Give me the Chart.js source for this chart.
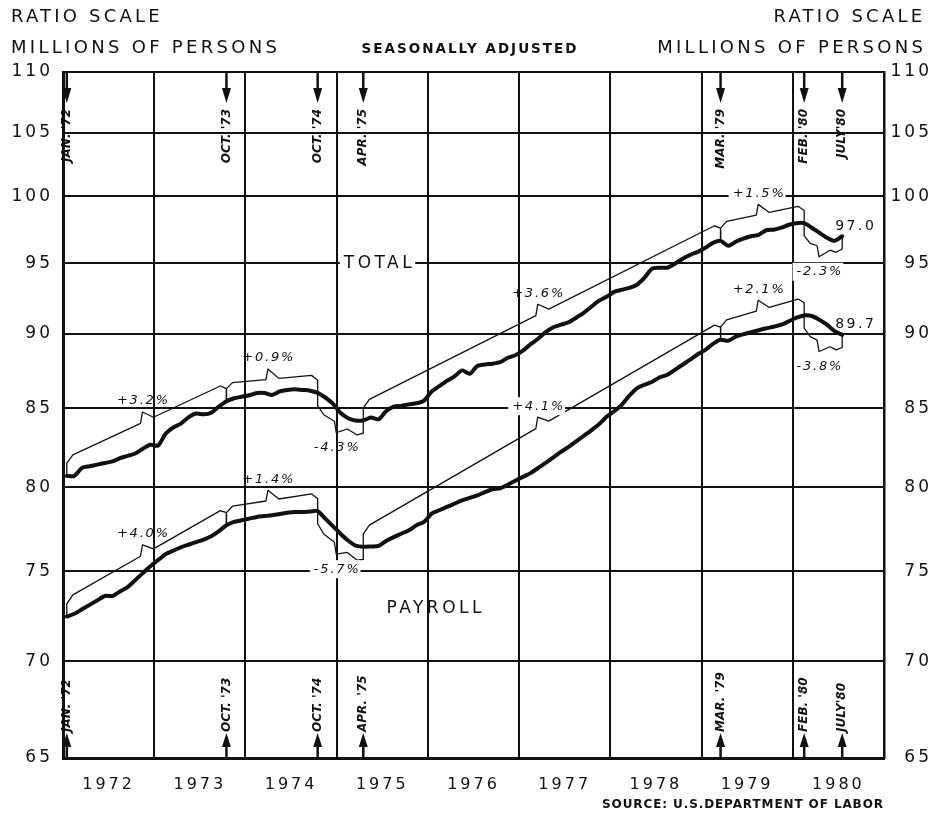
<!DOCTYPE html>
<html><head><meta charset="utf-8">
<script src="https://cdn.jsdelivr.net/npm/chart.js@4.4.0/dist/chart.umd.min.js"></script>
<style>html,body{margin:0;padding:0;background:#fff;}canvas{display:block;}</style>
</head><body>
<canvas id="c" width="936" height="817"></canvas>
<script>
// ---------- DATA ----------
const firstMonth = '1972-01';
const monthCount = 103; // Jan 1972 .. Jul 1980
const months = [];
for (let i = 0; i < monthCount; i++) {
  const y = 1972 + Math.floor(i / 12), m = (i % 12) + 1;
  months.push(y + '-' + String(m).padStart(2, '0'));
}
const totalValues = [
  80.7, 80.7, 81.2, 81.3, 81.4, 81.5, 81.6, 81.8, 81.95, 82.1,
  82.4, 82.65, 82.6, 83.35, 83.75, 84.0, 84.4, 84.65, 84.6, 84.7,
  85.1, 85.45, 85.65, 85.75, 85.85, 86.0, 86.0, 85.87, 86.1, 86.2,
  86.25, 86.2, 86.15, 86.0, 85.7, 85.3, 84.7, 84.35, 84.2, 84.2,
  84.4, 84.28, 84.8, 85.1, 85.15, 85.25, 85.32, 85.5, 86.1, 86.45,
  86.8, 87.1, 87.5, 87.27, 87.8, 87.9, 87.95, 88.05, 88.35, 88.52,
  88.83, 89.27, 89.65, 90.1, 90.44, 90.62, 90.79, 91.11, 91.45, 91.88,
  92.3, 92.58, 92.93, 93.08, 93.22, 93.44, 93.95, 94.6, 94.67, 94.67,
  94.96, 95.32, 95.61, 95.83, 96.13, 96.49, 96.64, 96.27, 96.57, 96.8,
  96.98, 97.09, 97.43, 97.47, 97.62, 97.84, 97.96, 97.96, 97.62, 97.24,
  96.87, 96.64, 96.98
];
const payrollValues = [
  72.45, 72.6, 72.85, 73.1, 73.35, 73.6, 73.6, 73.85, 74.1, 74.5,
  74.9, 75.3, 75.65, 76.0, 76.2, 76.4, 76.55, 76.7, 76.85, 77.05,
  77.35, 77.7, 77.9, 78.0, 78.1, 78.2, 78.25, 78.3, 78.38, 78.45,
  78.5, 78.5, 78.53, 78.55, 78.1, 77.65, 77.2, 76.8, 76.5, 76.43,
  76.45, 76.48, 76.77, 77.0, 77.2, 77.4, 77.7, 77.9, 78.4, 78.6,
  78.8, 79.0, 79.2, 79.35, 79.5, 79.7, 79.88, 79.94, 80.15, 80.4,
  80.64, 80.87, 81.19, 81.51, 81.85, 82.2, 82.51, 82.87, 83.22, 83.57,
  83.96, 84.44, 84.8, 85.22, 85.82, 86.31, 86.54, 86.74, 87.04, 87.21,
  87.54, 87.88, 88.22, 88.59, 88.89, 89.3, 89.58, 89.51, 89.79, 89.96,
  90.1, 90.24, 90.37, 90.48, 90.62, 90.86, 91.11, 91.27, 91.23, 90.97,
  90.62, 90.17, 89.92
];
const cycleDates = ['1972-01', '1973-10', '1974-10', '1975-04', '1979-03', '1980-02', '1980-07'];
const cycleTexts = ["JAN. '72", "OCT. '73", "OCT. '74", "APR. '75", "MAR. '79", "FEB. '80", "JULY'80"];
const totalChanges = ['+3.2%', '+0.9%', '-4.3%', '+3.6%', '+1.5%', '-2.3%'];
const payrollChanges = ['+4.0%', '+1.4%', '-5.7%', '+4.1%', '+2.1%', '-3.8%'];
const latestTexts = ['97.0', '89.7'];
const seriesNames = ['TOTAL', 'PAYROLL'];
const yTicks = [65, 70, 75, 80, 85, 90, 95, 100, 105, 110];
const yearLabels = ['1972', '1973', '1974', '1975', '1976', '1977', '1978', '1979', '1980'];

// ---------- helpers ----------
const INK = '#111';
function monthPos(s) { const [y, m] = s.split('-').map(Number); return (y - 1972) * 12 + (m - 1) + 0.5; }
function idxOf(s) { return months.indexOf(s); }
const BRACE_OFF = 1.014, NOTCH = 1.008;
function brace(values, i, change) {
  const k1 = idxOf(cycleDates[i]), k2 = idxOf(cycleDates[i + 1]);
  const v1 = values[k1], v2 = values[k2];
  const x1 = monthPos(cycleDates[i]), x2 = monthPos(cycleDates[i + 1]);
  const dir = change.trim().startsWith('-') ? -1 : 1;
  const R = Math.pow(BRACE_OFF, dir), N = Math.pow(NOTCH, dir);
  const L = x => Math.exp(Math.log(v1) + (Math.log(v2) - Math.log(v1)) * (x - x1) / (x2 - x1)) * R;
  const c = 0.8, mid = (x1 + x2) / 2;
  const part = (v, lv) => Math.exp(Math.log(v) + 0.7 * (Math.log(lv) - Math.log(v)));
  const pts = [
    {x: x1, y: v1}, {x: x1, y: part(v1, L(x1))}, {x: x1 + c, y: L(x1 + c)},
    {x: mid - 0.8, y: L(mid - 0.8)}, {x: mid - 0.55, y: L(mid - 0.55) * N}, {x: mid + 0.9, y: L(mid + 0.9)},
    {x: x2 - c, y: L(x2 - c)}, {x: x2, y: part(v2, L(x2))}, {x: x2, y: v2}
  ];
  return {pts, peak: pts[4], dir};
}
const braceSets = [];
[[totalValues, totalChanges], [payrollValues, payrollChanges]].forEach(([vals, ch], s) => {
  ch.forEach((c, i) => braceSets.push(Object.assign(brace(vals, i, c), {text: c, s, bg: s === 0 ? (i === 4 || i === 5) : (i === 2 || i === 3)})));
});
const nameSpots = [{x: 41.4, y: 95, bg: true}, {x: 48.8, y: 72.9, bg: false}];

function drawText(ctx, s, x, y, font, align, spacing, bg) {
  ctx.save();
  ctx.font = font; ctx.letterSpacing = spacing + 'px';
  ctx.textAlign = align; ctx.textBaseline = 'middle';
  let xx = x;
  if (align === 'center') xx = x + spacing / 2;
  if (align === 'right') xx = x + spacing;
  if (bg) {
    const w = ctx.measureText(s).width;
    let l = align === 'center' ? xx - w / 2 : align === 'right' ? xx - w : xx;
    ctx.fillStyle = '#fff';
    ctx.fillRect(l - 4, y - 9, w + 4, 18);
  }
  ctx.fillStyle = INK;
  ctx.fillText(s, xx, y);
  ctx.restore();
}

const decor = {
  id: 'decor',
  beforeUpdate(chart) { chart.ctx.letterSpacing = '3px'; },
  beforeDraw(chart) {
    const c = chart.ctx; c.letterSpacing = '3px';
    c.save(); c.fillStyle = '#fff'; c.fillRect(0, 0, chart.width, chart.height); c.restore();
  },
  afterDatasetsDraw(chart) {
    const ctx = chart.ctx, xs = chart.scales.x, ys = chart.scales.y, a = chart.chartArea;
    // cycle arrows + dates
    cycleDates.forEach((d, i) => {
      const x = xs.getPixelForValue(monthPos(d));
      ctx.save();
      ctx.strokeStyle = INK; ctx.fillStyle = INK; ctx.lineWidth = 2.5;
      ctx.beginPath(); ctx.moveTo(x, a.top); ctx.lineTo(x, a.top + 20); ctx.stroke();
      ctx.beginPath(); ctx.moveTo(x - 4.5, a.top + 16); ctx.lineTo(x + 4.5, a.top + 16); ctx.lineTo(x, a.top + 31); ctx.closePath(); ctx.fill();
      ctx.beginPath(); ctx.moveTo(x, a.bottom); ctx.lineTo(x, a.bottom - 14); ctx.stroke();
      ctx.beginPath(); ctx.moveTo(x - 4.5, a.bottom - 11); ctx.lineTo(x + 4.5, a.bottom - 11); ctx.lineTo(x, a.bottom - 25); ctx.closePath(); ctx.fill();
      ctx.font = 'italic bold 12px "DejaVu Sans"'; ctx.letterSpacing = '0px'; ctx.textBaseline = 'middle';
      ctx.save(); ctx.translate(x, a.top + 37); ctx.rotate(-Math.PI / 2); ctx.textAlign = 'right'; ctx.fillText(cycleTexts[i], 0, 0); ctx.restore();
      ctx.save(); ctx.translate(x, a.bottom - 26); ctx.rotate(-Math.PI / 2); ctx.textAlign = 'left'; ctx.fillText(cycleTexts[i], 0, 0); ctx.restore();
      ctx.restore();
    });
    // percent labels
    braceSets.forEach(b => {
      const px = xs.getPixelForValue(b.peak.x), py = ys.getPixelForValue(b.peak.y);
      drawText(ctx, b.text, px, b.dir > 0 ? py - 11 : py + 15, 'italic 13px "DejaVu Sans"', 'center', 1.8, b.bg);
    });
    // latest values
    [totalValues, payrollValues].forEach((vals, s) => {
      const px = xs.getPixelForValue(monthPos(months[vals.length - 1])), py = ys.getPixelForValue(vals[vals.length - 1]);
      drawText(ctx, latestTexts[s], px - 7, py - 10, '14px "DejaVu Sans"', 'left', 2.5, false);
    });
    // series names
    nameSpots.forEach((n, s) => {
      drawText(ctx, seriesNames[s], xs.getPixelForValue(n.x), ys.getPixelForValue(n.y), '17px "DejaVu Sans"', 'center', 3.5, n.bg);
    });
  },
  afterDraw(chart) {
    const ctx = chart.ctx;
    const f18 = '18px "DejaVu Sans"';
    drawText(ctx, 'RATIO SCALE', 11, 17, f18, 'left', 3.2, false);
    drawText(ctx, 'MILLIONS OF PERSONS', 11, 48, f18, 'left', 3.3, false);
    drawText(ctx, 'RATIO SCALE', 922, 17, f18, 'right', 3.2, false);
    drawText(ctx, 'MILLIONS OF PERSONS', 923, 48, f18, 'right', 3.3, false);
    drawText(ctx, 'SEASONALLY ADJUSTED', 469, 49, 'bold 13.5px "DejaVu Sans"', 'center', 2, false);
    drawText(ctx, 'SOURCE: U.S.DEPARTMENT OF LABOR', 883, 805, 'bold 12px "DejaVu Sans"', 'right', 0.9, false);
  }
};

const series = [
  {data: months.map((m, i) => ({x: monthPos(m), y: totalValues[i]})), borderWidth: 4},
  {data: months.map((m, i) => ({x: monthPos(m), y: payrollValues[i]})), borderWidth: 4}
].map(d => Object.assign(d, {borderColor: INK, pointRadius: 0, tension: 0.25, fill: false, borderJoinStyle: 'round', borderCapStyle: 'round'}));
const braceDatasets = braceSets.map(b => ({data: b.pts, borderColor: INK, borderWidth: 1.3, pointRadius: 0, tension: 0, fill: false, borderJoinStyle: 'round'}));

const yCommon = {
  type: 'logarithmic', min: 65, max: 110,
  afterBuildTicks: s => { s.ticks = yTicks.map(v => ({value: v})); },
  ticks: {callback: v => String(v), font: {family: 'DejaVu Sans', size: 17}, color: INK, autoSkip: false}
};

new Chart(document.getElementById('c'), {
  type: 'line',
  data: {datasets: series.concat(braceDatasets)},
  options: {
    responsive: false, animation: false, devicePixelRatio: 1,
    layout: {padding: {top: 72, right: 4, left: 0, bottom: 0}},
    plugins: {legend: {display: false}, tooltip: {enabled: false}},
    scales: {
      x: {
        type: 'linear', min: 0, max: 108,
        afterBuildTicks: s => { const t = []; for (let v = 0; v <= 108; v += 6) t.push({value: v}); s.ticks = t; },
        afterFit: s => { s.height = 59; },
        ticks: {callback: v => (v % 12 === 6 ? yearLabels[(v - 6) / 12] : ''), autoSkip: false, maxRotation: 0, padding: 17,
          font: {family: 'DejaVu Sans', size: 16}, color: INK},
        grid: {color: c => (c.tick && c.tick.value % 12 === 0 ? INK : 'rgba(0,0,0,0)'), lineWidth: 2, drawTicks: false},
        border: {color: INK, width: 3}
      },
      y: Object.assign({}, yCommon, {
        position: 'left',
        afterFit: s => { s.width = 63; },
        ticks: Object.assign({}, yCommon.ticks, {padding: 10}),
        grid: {color: INK, lineWidth: 2, drawTicks: false},
        border: {color: INK, width: 3}
      }),
      y2: Object.assign({}, yCommon, {
        position: 'right',
        afterFit: s => { s.width = 48; },
        ticks: Object.assign({}, yCommon.ticks, {crossAlign: 'far', padding: 6}),
        grid: {drawOnChartArea: false, drawTicks: false},
        border: {color: INK, width: 2.5}
      })
    }
  },
  plugins: [decor]
});
</script>
</body></html>
